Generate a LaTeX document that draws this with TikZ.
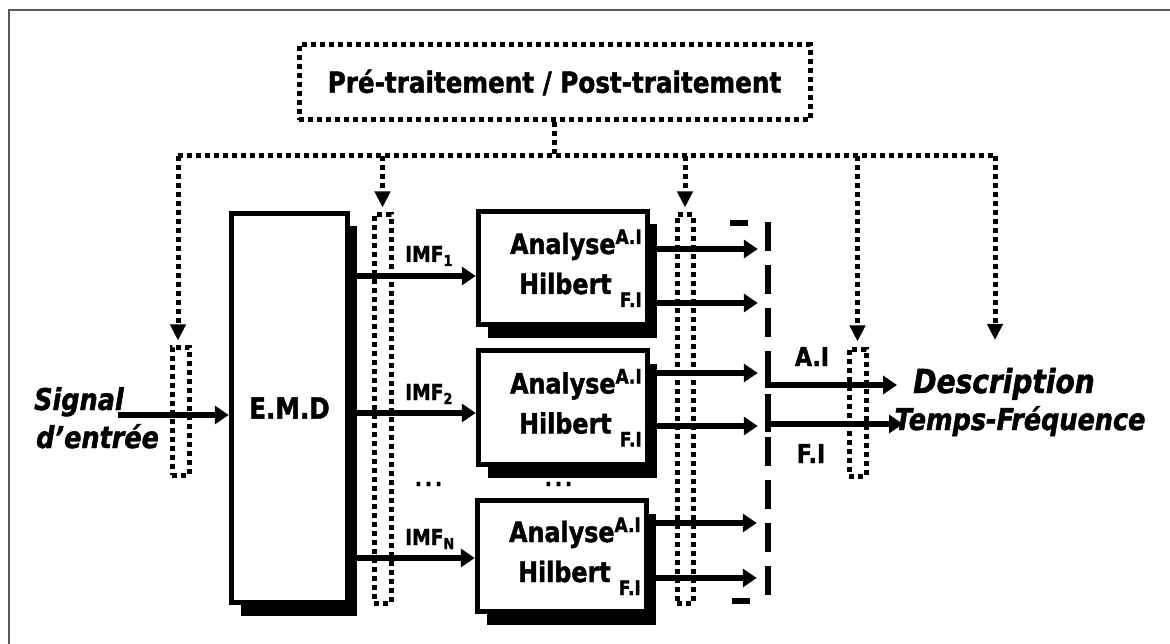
\documentclass[tikz,border=0pt]{standalone}
\usepackage{fontspec}
\setmainfont{DejaVu Sans}[FakeStretch=0.85, BoldFeatures={FakeBold=1.5}, BoldItalicFeatures={FakeBold=1.5}]
\usetikzlibrary{arrows.meta,shadows}
\newcommand\fsz[1]{\fontsize{#1}{#1}\selectfont}
\newcommand\hbtxt[1]{%
  \node[anchor=base east, xshift=79pt, yshift=14pt, font=\fsz{28}\bfseries] (#1up) at (#1.center) {Analyse\raisebox{10pt}{\fsz{20}A.I}};
  \node[anchor=base east, xshift=79pt, yshift=-26pt, font=\fsz{28}\bfseries] (#1dn) at (#1.center) {Hilbert\ \raisebox{-13pt}{\fsz{20}F.I}};}
\begin{document}
\begin{tikzpicture}[x=1pt,y=-1pt,
  every node/.style={inner sep=0pt},
  blk/.style={draw, line width=5.5pt, fill=white, general shadow={fill=black, shadow xshift=9pt, shadow yshift=-13pt}},
  arr/.style={line width=6pt, -{Triangle[length=14pt,width=18pt]}},
  dotln/.style={line width=5pt, dash pattern=on 5pt off 4pt},
  dotarr/.style={dotln, -{Triangle[length=16pt,width=15pt]}},
  dotbox/.style={draw, dotln},
  lbl/.style={font=\fsz{26}\bfseries},
  imf/.style={font=\fsz{22}\bfseries, anchor=base west},
  ital/.style={font=\fsz{30}\bfseries\itshape},
  dsh/.style={line width=6pt}
]
\useasboundingbox (0,0) rectangle (1170,644);
% frame
\draw[line width=1.5pt, black!65] (9,644) -- (9,10) -- (1170,10);

% top box
\node[dotbox, minimum width=511pt, minimum height=75pt, font=\fsz{29}\bfseries] (pre) at (554.5,82.5) {Pré-traitement / Post-traitement};

% small dotted boxes
\node[dotbox, minimum width=17pt, minimum height=128pt] (r1) at (180.5,411) {};
\node[dotbox, minimum width=17pt, minimum height=388pt] (r2) at (382.5,409) {};
\node[dotbox, minimum width=16pt, minimum height=388pt] (r3) at (685,409) {};
\node[dotbox, minimum width=17pt, minimum height=127pt] (r4) at (857.5,412.5) {};

% EMD
\node[blk, minimum width=116pt, minimum height=389pt, font=\fsz{29}\bfseries] (emd) at (289.5,408) {E.M.D};

% Hilbert boxes
\node[blk, minimum width=169pt, minimum height=113pt] (a1) at (563,268) {};
\node[blk, minimum width=169pt, minimum height=114pt] (a2) at (563,407.5) {};
\node[blk, minimum width=169pt, minimum height=111pt] (a3) at (562,556) {};
\hbtxt{a1}
\hbtxt{a2}
\hbtxt{a3}

% signal
\node[ital, anchor=base west] (sig1) at (34,410) {Signal};
\node[ital, anchor=base west] (sig2) at (36,448) {d’entrée};
\coordinate (sigA) at (118,415);
\draw[arr] (sigA) -- (sigA -| emd.west);

% description
\node[font=\fsz{33}\bfseries\itshape, anchor=base] (desc1) at (1004,393) {Description};
\node[font=\fsz{30}\bfseries\itshape, anchor=base] (desc2) at (1020,430) {Temps-Fréquence};

% IMF arrows
\draw[arr] (emd.east |- 0,276) -- (a1.west |- 0,276);
\draw[arr] (emd.east |- 0,413) -- (a2.west |- 0,413);
\draw[arr] (emd.east |- 0,558) -- (a3.west |- 0,558);
\node[imf] (imf1) at (405,262) {IMF\raisebox{-4pt}{\fsz{15}1}};
\node[imf] (imf2) at (405,400) {IMF\raisebox{-4pt}{\fsz{15}2}};
\node[imf] (imfn) at (405,545) {IMF\raisebox{-4pt}{\fsz{15}N}};
\node[font=\fsz{22}\bfseries] (dots1) at (428.5,484) {.\kern3pt.\kern3pt.};
\node[font=\fsz{22}\bfseries] (dots2) at (558.5,484) {.\kern3pt.\kern3pt.};

% outputs of Hilbert boxes
\draw[arr] (a1.east |- 0,249) -- ++(107.5,0);
\draw[arr] (a1.east |- 0,303) -- ++(107.5,0);
\draw[arr] (a2.east |- 0,373) -- ++(107.5,0);
\draw[arr] (a2.east |- 0,426) -- ++(107.5,0);
\draw[arr] (a3.east |- 0,523) -- ++(107.5,0);
\draw[arr] (a3.east |- 0,578) -- ++(107.5,0);

% dashed bracket
\coordinate (bT) at (768,222);
\coordinate (bB) at (768,606);
\draw[dsh] (730,223) -- (748,223);
\draw[dsh] (732,601) -- (750,601);
\draw[dsh, dash pattern=on 29pt off 14pt] (bT) -- (bB);

% A.I / F.I outputs
\draw[arr] (768,363) |- (897,385);
\draw[dsh] (768,408) -- (768,432);
\draw[arr] (768,424) -- (903,424);
\node[lbl, anchor=base] (ai) at (812,366) {A.I};
\node[lbl, anchor=base] (fi) at (811,463) {F.I};

% dotted distribution tree
\coordinate (hL) at (178,156);
\coordinate (hR) at (995,156);
\draw[dotln] (pre.south) -- (pre.south |- hL);
\draw[dotln] (hL) -- (hR);
\draw[dotarr, shorten >=4pt] (hL) -- (hL |- r1.north);
\draw[dotarr, shorten >=5pt] (r2.north |- hL) -- (r2.north);
\draw[dotarr, shorten >=5pt] (r3.north |- hL) -- (r3.north);
\draw[dotarr, shorten >=5pt] (r4.north |- hL) -- (r4.north);
\draw[dotarr] (hR) -- ++(0,184);
\end{tikzpicture}
\end{document}
